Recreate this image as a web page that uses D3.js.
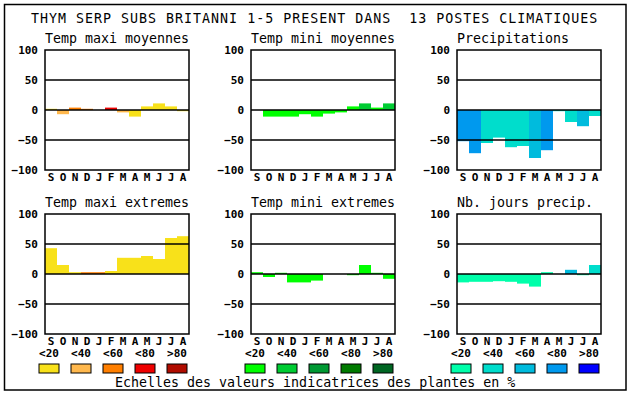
<!DOCTYPE html>
<html>
<head>
<meta charset="utf-8">
<script src="https://cdn.jsdelivr.net/npm/d3@7"></script>
<style>
  body { margin: 0; background: #fff; }
  text { font-family: "DejaVu Sans Mono", monospace; fill: #000; }
</style>
</head>
<body>
<svg id="chart" width="630" height="394"></svg>
<script>
const months = ["S","O","N","D","J","F","M","A","M","J","J","A"];
const yTicks = [100, 50, 0, -50, -100];
const legendLabels = ["<20", "<40", "<60", "<80", ">80"];

// class colours (plant indicator scale)
const tempMaxColors = ["#f8e11a", "#ffb84d", "#ff7f00", "#ee0000", "#b00c00"];
const tempMinColors = ["#00ff00", "#00cc33", "#009933", "#007a00", "#006622"];
const precipColors = ["#00ffaa", "#00ddcc", "#00bbdd", "#0099ee", "#0000ff"];

// values per month, with colour class index
const tmaxMoy = [2, -7, 4, 2, 0, 4, -4, -11, 6, 11, 6, -2];
const tmaxMoyCls = [0, 1, 2, 2, 0, 3, 1, 0, 0, 0, 0, 0];
const tminMoy = [0, -11, -11, -11, -7, -11, -6, -4, 6, 11, 4, 11];
const tminMoyCls = [0, 0, 0, 0, 0, 0, 0, 0, 0, 1, 0, 1];
const precip = [-52, -72, -55, -46, -62, -60, -80, -67, -2, -20, -27, -10];
const precipCls = [3, 3, 1, 1, 1, 1, 2, 3, 1, 1, 2, 1];
const tmaxExt = [43, 15, 3, 3, 3, 5, 27, 27, 30, 25, 60, 63];
const tmaxExtCls = [0, 0, 0, 2, 2, 0, 0, 0, 0, 0, 0, 0];
const tminExt = [3, -5, 2, -14, -14, -11, 0, 0, -2, 15, 2, -8];
const tminExtCls = [0, 0, 0, 0, 0, 0, 0, 0, 0, 0, 0, 0];
const nbJours = [-14, -13, -13, -12, -13, -16, -21, 3, 0, 7, -2, 15];
const nbJoursCls = [0, 0, 0, 0, 0, 0, 0, 0, 0, 2, 0, 1];

const panels = [
  { title: "Temp maxi moyennes", vals: tmaxMoy, cls: tmaxMoyCls, colors: tempMaxColors, col: 0, row: 0 },
  { title: "Temp mini moyennes", vals: tminMoy, cls: tminMoyCls, colors: tempMinColors, col: 1, row: 0 },
  { title: "Precipitations", vals: precip, cls: precipCls, colors: precipColors, col: 2, row: 0 },
  { title: "Temp maxi extremes", vals: tmaxExt, cls: tmaxExtCls, colors: tempMaxColors, col: 0, row: 1 },
  { title: "Temp mini extremes", vals: tminExt, cls: tminExtCls, colors: tempMinColors, col: 1, row: 1 },
  { title: "Nb. jours precip.", vals: nbJours, cls: nbJoursCls, colors: precipColors, col: 2, row: 1 }
];

const svg = d3.select("#chart");
const colX = [45, 251, 457];
const rowY = [50, 214];
const pw = 144, ph = 120;

// outer frame
svg.append("rect")
  .attr("x", 4.5).attr("y", 4.5).attr("width", 621.5).attr("height", 385.5)
  .attr("fill", "none").attr("stroke", "#000").attr("stroke-width", 1.5);

svg.append("text")
  .attr("x", 31).attr("y", 23)
  .attr("font-size", "13.3px")
  .attr("letter-spacing", "1px")
  .style("white-space", "pre")
  .text("THYM SERP SUBS BRITANNI 1-5 PRESENT DANS  13 POSTES CLIMATIQUES");

panels.forEach(p => {
  const x0 = colX[p.col], y0 = rowY[p.row];
  const g = svg.append("g");

  const x = d3.scaleBand().domain(d3.range(12)).range([x0, x0 + pw]);
  const y = d3.scaleLinear().domain([-100, 100]).range([y0 + ph, y0]);

  g.append("text")
    .attr("x", x0).attr("y", y0 - 7.5)
    .attr("font-size", "13.3px")
    .text(p.title);

  g.selectAll("rect.bar")
    .data(p.vals.map((v, i) => ({ v, i, c: p.cls[i] })))
    .enter().append("rect")
    .attr("class", "bar")
    .attr("x", d => x(d.i))
    .attr("width", x.bandwidth())
    .attr("y", d => y(Math.max(0, d.v)))
    .attr("height", d => Math.abs(y(d.v) - y(0)))
    .attr("fill", d => p.colors[d.c]);

  // grid lines at 50, 0, -50
  g.selectAll("line.grid")
    .data([50, 0, -50])
    .enter().append("line")
    .attr("x1", x0).attr("x2", x0 + pw)
    .attr("y1", d => y(d)).attr("y2", d => y(d))
    .attr("stroke", "#000").attr("stroke-width", 1.5);

  g.append("rect")
    .attr("x", x0).attr("y", y0).attr("width", pw).attr("height", ph)
    .attr("fill", "none").attr("stroke", "#000").attr("stroke-width", 1.5);

  const yAxis = d3.axisLeft(y).tickValues(yTicks).tickSize(0).tickPadding(7);
  const ya = g.append("g").attr("transform", `translate(${x0},0)`).call(yAxis);
  ya.select(".domain").remove();
  ya.selectAll("text")
    .attr("font-family", "DejaVu Sans Mono, monospace")
    .attr("font-size", "11px").attr("font-weight", "bold");

  const xAxis = d3.axisBottom(x).tickFormat(i => months[i]).tickSize(0).tickPadding(3);
  const xa = g.append("g").attr("transform", `translate(0,${y0 + ph})`).call(xAxis);
  xa.select(".domain").remove();
  xa.selectAll("text")
    .attr("font-family", "DejaVu Sans Mono, monospace")
    .attr("font-size", "11px").attr("font-weight", "bold");

  // legend under bottom row
  if (p.row === 1) {
    const lg = svg.append("g");
    legendLabels.forEach((lab, i) => {
      const cx = x0 + 4 + 32 * i;
      lg.append("text")
        .attr("x", cx).attr("y", 357)
        .attr("text-anchor", "middle")
        .attr("font-size", "11px").attr("font-weight", "bold")
        .text(lab);
      lg.append("rect")
        .attr("x", cx - 10).attr("y", 364).attr("width", 20).attr("height", 9)
        .attr("fill", p.colors[i]).attr("stroke", "#000").attr("stroke-width", 1);
    });
  }
});

svg.append("text")
  .attr("x", 115).attr("y", 387)
  .attr("font-size", "13.3px")
  .text("Echelles des valeurs indicatrices des plantes en %");
</script>
</body>
</html>
